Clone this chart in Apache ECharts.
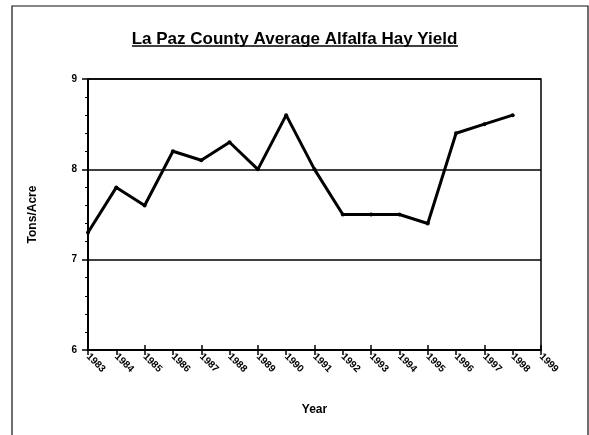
<!DOCTYPE html>
<html>
<head>
<meta charset="utf-8">
<script src="https://cdn.jsdelivr.net/npm/echarts@6/dist/echarts.min.js"></script>
<style>
  html, body { margin: 0; padding: 0; background: #fff; }
  #chart { width: 589px; height: 435px; }
</style>
</head>
<body>
<div id="chart"></div>
<script>
// years on the axis (one more label than data points)
const years = ['1983', '1984', '1985', '1986', '1987', '1988', '1989', '1990', '1991',
  '1992', '1993', '1994', '1995', '1996', '1997', '1998', '1999']
// average yield, tons per acre
const yieldValues = [7.3, 7.8, 7.6, 8.2, 8.1, 8.3, 8.0, 8.6, 8.0, 7.5, 7.5, 7.5, 7.4, 8.4, 8.5, 8.6]
const yTicks = [6, 7, 8, 9]

const font = 'Arial, "Liberation Sans", sans-serif'
const chart = echarts.init(document.getElementById('chart'))

chart.setOption({
  animation: false,
  backgroundColor: '#fff',
  title: {
    text: 'La Paz County Average Alfalfa Hay Yield',
    left: 'center',
    top: 26,
    textStyle: { fontFamily: font, fontWeight: 'bold', fontSize: 17, color: '#000' }
  },
  graphic: [
    // outer frame of the scanned page
    { type: 'rect', shape: { x: 12, y: 6, width: 576, height: 440 },
      style: { fill: 'none', stroke: '#111', lineWidth: 1.2 }, silent: true },
    // title underline
    { type: 'line', shape: { x1: 132, y1: 46, x2: 458, y2: 46 },
      style: { stroke: '#000', lineWidth: 1.5 }, silent: true }
  ],
  grid: {
    left: 88, right: 48, top: 79, bottom: 85,
    show: true, borderColor: '#000', borderWidth: 1.5, backgroundColor: 'transparent'
  },
  xAxis: [{
    type: 'category',
    data: years,
    boundaryGap: false,
    name: 'Year',
    nameLocation: 'middle',
    nameGap: 54,
    nameTextStyle: { fontFamily: font, fontWeight: 'bold', fontSize: 12, color: '#000' },
    axisLine: { lineStyle: { color: '#000', width: 2 } },
    axisTick: { show: true, length: 5, lineStyle: { color: '#000', width: 1.5 } },
    axisLabel: { rotate: -45, interval: 0, margin: 5, fontFamily: font, fontWeight: 'bold', fontSize: 10, color: '#000' }
  }, {
    // inner half of the crossing ticks
    type: 'category',
    data: years,
    boundaryGap: false,
    position: 'bottom',
    axisLine: { show: false },
    axisTick: { show: true, inside: true, length: 5, lineStyle: { color: '#000', width: 1.5 } },
    axisLabel: { show: false }
  }],
  yAxis: {
    type: 'value',
    min: yTicks[0],
    max: yTicks[yTicks.length - 1],
    interval: 1,
    name: 'Tons/Acre',
    nameLocation: 'middle',
    nameGap: 49,
    nameTextStyle: { fontFamily: font, fontWeight: 'bold', fontSize: 12, color: '#000' },
    axisLine: { show: true, lineStyle: { color: '#000', width: 2 } },
    axisTick: { show: true, length: 6, lineStyle: { color: '#000', width: 1.5 } },
    minorTick: { show: true, splitNumber: 5, length: 3, lineStyle: { color: '#000', width: 1 } },
    splitLine: { show: true, lineStyle: { color: '#000', width: 1.5 } },
    axisLabel: { margin: 11, fontFamily: font, fontWeight: 'bold', fontSize: 10, color: '#000' }
  },
  series: [{
    type: 'line',
    data: yieldValues,
    symbol: 'circle',
    symbolSize: 4,
    lineStyle: { color: '#000', width: 3 },
    itemStyle: { color: '#000' }
  }]
})
</script>
</body>
</html>
